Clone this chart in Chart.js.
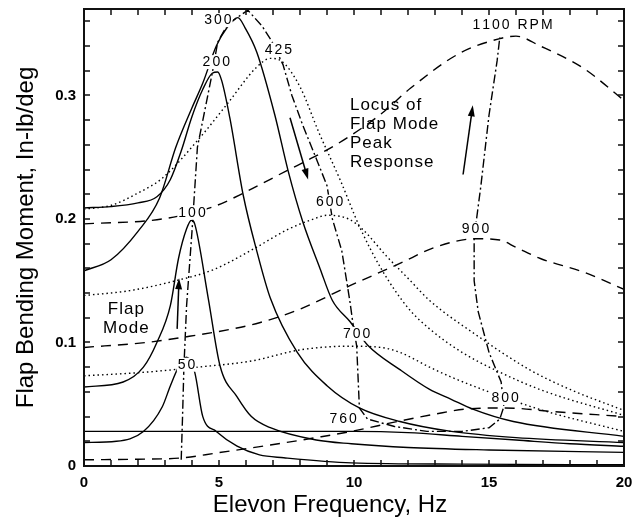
<!DOCTYPE html>
<html>
<head>
<meta charset="utf-8">
<script src="https://cdn.jsdelivr.net/npm/chart.js@4.4.1/dist/chart.umd.min.js"></script>
<style>
  html, body { margin: 0; padding: 0; background: #fff; overflow: hidden; }
  canvas { display: block; }
</style>
</head>
<body>
<canvas id="myChart" width="634" height="522"></canvas>
<script>
const family = '"Liberation Sans", Arial, sans-serif';

// axis range and tick labels
const xMin = 0, xMax = 20, yMin = 0, yMax = 0.37;
const xTickLabels = [0, 5, 10, 15, 20];
const yTickLabels = [0, 0.1, 0.2, 0.3];

// flap bending moment vs elevon frequency, [Hz, in-lb/deg]
const rpm50 = [[0,0.019],[1.2,0.02],[2.2,0.028],[2.9,0.048],[3.2,0.065],[3.5,0.08],[3.8,0.088],[4.1,0.076],[4.4,0.04],[4.9,0.028],[5.67,0.016],[6.5,0.009],[7.4,0.0067],[9.9,0.0025],[14,0.0015],[20,0.001]];
const rpm100 = [[0,0.064],[1.45,0.068],[2.2,0.08],[2.7,0.1],[3.2,0.13],[3.5,0.168],[3.8,0.192],[3.98,0.199],[4.1,0.196],[4.6,0.136],[5.04,0.081],[5.67,0.056],[6.2,0.04],[6.9,0.031],[8.6,0.021],[9.9,0.018],[12,0.015],[15,0.013],[20,0.011]];
const rpm200 = [[0,0.209],[1,0.21],[2,0.213],[2.7,0.218],[3.2,0.232],[3.6,0.255],[4.0,0.283],[4.4,0.305],[4.75,0.318],[4.95,0.319],[5.1,0.312],[5.4,0.282],[5.9,0.219],[6.4,0.174],[6.9,0.136],[7.9,0.092],[9,0.065],[10.2,0.047],[11.7,0.036],[13.6,0.028],[16,0.023],[20,0.019]];
const rpm300 = [[0,0.158],[1,0.167],[2,0.19],[2.8,0.217],[3.4,0.258],[4.0,0.29],[4.4,0.31],[4.9,0.34],[5.3,0.355],[5.7,0.363],[5.96,0.355],[6.4,0.335],[7.07,0.284],[7.56,0.239],[8.1,0.198],[8.74,0.16],[9.2,0.134],[9.85,0.117],[10.5,0.098],[11.7,0.078],[12.8,0.062],[13.6,0.054],[14.4,0.046],[15.9,0.036],[20,0.024]];
const rpm425 = [[0,0.208],[1,0.211],[2,0.221],[2.9,0.233],[4.3,0.266],[5.3,0.293],[6.4,0.323],[6.9,0.33],[7.3,0.328],[8.0,0.307],[8.7,0.27],[9.5,0.231],[10.2,0.194],[11,0.16],[12,0.128],[12.8,0.111],[14,0.092],[15.3,0.077],[17,0.061],[20,0.041]];
const rpm600 = [[0,0.138],[1.7,0.142],[3.4,0.15],[4.8,0.159],[6.3,0.176],[7.5,0.191],[8.5,0.2],[9.0,0.203],[9.8,0.2],[10.3,0.192],[11.2,0.17],[12,0.152],[12.8,0.134],[14.4,0.108],[16.5,0.078],[18,0.062],[20,0.045]];
const rpm700 = [[0,0.073],[2.3,0.076],[4.2,0.08],[6.2,0.085],[8,0.094],[9.8,0.097],[11,0.096],[11.7,0.092],[12.8,0.08],[13.6,0.072],[15,0.06],[17,0.045],[20,0.028]];
const rpm800 = [[0,0.005],[2,0.0055],[3.6,0.0065],[4.9,0.0105],[6.9,0.017],[8.6,0.023],[9.9,0.028],[11.6,0.036],[13,0.042],[14.1,0.046],[15.6,0.047],[17.4,0.044],[20,0.04]];
const rpm900 = [[0,0.096],[2.3,0.1],[3.9,0.105],[5.5,0.111],[6.5,0.116],[8,0.127],[9.85,0.146],[11.7,0.164],[13,0.177],[14.5,0.184],[15.4,0.183],[16,0.177],[16.9,0.168],[18.5,0.157],[20,0.143]];
const rpm1100 = [[0,0.196],[2.9,0.2],[4.8,0.21],[6,0.222],[7.5,0.239],[8.5,0.25],[9.7,0.265],[11,0.285],[12.1,0.306],[13.9,0.334],[15.4,0.346],[16,0.348],[16.9,0.34],[18.5,0.322],[20,0.296]];
const flatSolid = [[0,0.028],[5,0.028],[8,0.028],[10,0.028],[12,0.027],[14,0.024],[16,0.021],[18,0.018],[20,0.016]];

// locus of flap mode peak response
const locus = [[3.6,0.005],[3.65,0.04],[3.7,0.08],[3.8,0.13],[4.0,0.19],[4.2,0.258],[4.74,0.317],[4.95,0.343],[5.3,0.357],[5.67,0.363],[6.07,0.369],[6.6,0.356],[6.95,0.344],[7.37,0.325],[7.7,0.3],[8.1,0.276],[8.6,0.249],[9.0,0.227],[9.2,0.2],[9.55,0.174],[9.85,0.133],[9.95,0.117],[10.1,0.097],[10.2,0.047],[10.5,0.038],[11.5,0.032],[12.7,0.028],[14,0.028],[15,0.031],[15.4,0.038],[15.55,0.048],[15.45,0.068],[15.0,0.092],[14.6,0.125],[14.45,0.15],[14.45,0.185],[14.7,0.227],[15.0,0.284],[15.3,0.328],[15.4,0.347]];

// rpm labels on the locus
const peakLabels = ['50', '100', '200', '300', '425', '600', '700', '760', '800', '900', '1100 RPM'];
const peakLabelX = [3.8, 4.0, 4.9, 4.96, 7.2, 9.1, 10.1, 9.6, 15.6, 14.5, 15.85];
const peakLabelY = [0.082, 0.205, 0.327, 0.361, 0.337, 0.214, 0.107, 0.038, 0.055, 0.192, 0.357];

// arrows [x0, y0, x1, y1], head at the second point
const arrows = [[3.45, 0.111, 3.52, 0.152], [7.63, 0.282, 8.3, 0.232], [14.04, 0.236, 14.4, 0.292]];

const SOLID = [], DOTTED = [1.5, 3], DASHED = [10, 7], DASHDOT = [9, 3, 2, 3];

function line(points, dash, smooth) {
    return {
        data: points.map(p => ({ x: p[0], y: p[1] })),
        showLine: true,
        borderColor: '#000',
        borderWidth: 1.4,
        borderDash: dash,
        pointRadius: 0,
        fill: false,
        cubicInterpolationMode: smooth ? 'monotone' : 'default',
        tension: 0
    };
}

// text with extra space between letters, drawn one glyph at a time
function spacedWidth(ctx, text, gap) {
    return ctx.measureText(text).width + gap * (text.length - 1);
}
function drawSpaced(ctx, text, x, y, gap) {
    let cx = x;
    for (const ch of text) {
        ctx.fillText(ch, cx, y);
        cx += ctx.measureText(ch).width + gap;
    }
}

// plot frame with inward ticks on all four sides
function drawFrame(chart) {
    const ctx = chart.ctx;
    const x = chart.scales.x, y = chart.scales.y;
    const left = Math.round(x.left), right = Math.round(x.right);
    const top = Math.round(y.top), bottom = Math.round(y.bottom);
    ctx.save();
    ctx.globalAlpha = 1;
    ctx.globalCompositeOperation = 'source-over';
    ctx.setLineDash([]);
    ctx.strokeStyle = '#111';
    ctx.lineWidth = 2;
    ctx.beginPath();
    ctx.moveTo(left, top);
    ctx.lineTo(right, top);
    ctx.lineTo(right, bottom);
    ctx.lineTo(left, bottom);
    ctx.closePath();
    ctx.stroke();
    ctx.lineWidth = 1.5;
    ctx.beginPath();
    for (let v = xMin; v <= xMax; v++) {
        const px = Math.round(x.getPixelForValue(v));
        ctx.moveTo(px, bottom); ctx.lineTo(px, bottom - 6);
        ctx.moveTo(px, top); ctx.lineTo(px, top + 6);
    }
    for (let i = 0; i <= 18; i++) {
        const py = Math.round(y.getPixelForValue(yMin + i * 0.02));
        ctx.moveTo(left, py); ctx.lineTo(left + 6, py);
        ctx.moveTo(right, py); ctx.lineTo(right - 6, py);
    }
    ctx.stroke();
    ctx.restore();
}

function drawNotes(chart) {
    const ctx = chart.ctx;
    const x = chart.scales.x, y = chart.scales.y;
    ctx.save();
    ctx.setLineDash([]);
    ctx.fillStyle = '#000';
    ctx.strokeStyle = '#000';
    ctx.textBaseline = 'middle';
    ctx.textAlign = 'left';

    // rpm labels, white behind so lines break at them
    ctx.font = '14px ' + family;
    peakLabels.forEach((t, i) => {
        const px = x.getPixelForValue(peakLabelX[i]);
        const py = y.getPixelForValue(peakLabelY[i]);
        const w = spacedWidth(ctx, t, 2);
        ctx.fillStyle = '#fff';
        ctx.fillRect(px - w / 2 - 1, py - 7, w + 2, 14);
        ctx.fillStyle = '#000';
        drawSpaced(ctx, t, px - w / 2, py, 2);
    });

    // notes
    ctx.font = '17px ' + family;
    const fx = x.getPixelForValue(1.55), fy = y.getPixelForValue(0.127);
    ['Flap', 'Mode'].forEach((t, i) => drawSpaced(ctx, t, fx - spacedWidth(ctx, t, 1) / 2, fy + i * 19, 1));
    const lx = x.getPixelForValue(9.85), ly = y.getPixelForValue(0.292);
    ['Locus of', 'Flap Mode', 'Peak', 'Response'].forEach((t, i) => drawSpaced(ctx, t, lx, ly + i * 19, 1));

    // arrows
    ctx.lineWidth = 1.5;
    arrows.forEach(([x0, y0, x1, y1]) => {
        const ax = x.getPixelForValue(x0), ay = y.getPixelForValue(y0);
        const bx = x.getPixelForValue(x1), by = y.getPixelForValue(y1);
        const ang = Math.atan2(by - ay, bx - ax);
        ctx.beginPath();
        ctx.moveTo(ax, ay);
        ctx.lineTo(bx - 6 * Math.cos(ang), by - 6 * Math.sin(ang));
        ctx.stroke();
        ctx.beginPath();
        ctx.moveTo(bx, by);
        ctx.lineTo(bx - 11 * Math.cos(ang) + 3.5 * Math.sin(ang), by - 11 * Math.sin(ang) - 3.5 * Math.cos(ang));
        ctx.lineTo(bx - 11 * Math.cos(ang) - 3.5 * Math.sin(ang), by - 11 * Math.sin(ang) + 3.5 * Math.cos(ang));
        ctx.closePath();
        ctx.fill();
    });

    // x axis title
    ctx.font = '24px ' + family;
    ctx.textAlign = 'center';
    ctx.fillText('Elevon Frequency, Hz', (x.left + x.right) / 2 - 24, 505);
    ctx.restore();
}

window.onload = function() {

let chart = document.getElementById('myChart').getContext('2d');

let myChart = new Chart(chart, {
    type: 'scatter',
    data: {
        datasets: [
            line(rpm50, SOLID, true),
            line(rpm100, SOLID, true),
            line(rpm200, SOLID, true),
            line(rpm300, SOLID, true),
            line(flatSolid, SOLID, true),
            line(rpm425, DOTTED, true),
            line(rpm600, DOTTED, true),
            line(rpm700, DOTTED, true),
            line(rpm800, DASHED, true),
            line(rpm900, DASHED, true),
            line(rpm1100, DASHED, true),
            line(locus, DASHDOT, false)
        ]
    },
    options: {
        responsive: false,
        animation: false,
        layout: { padding: { top: 7.6, right: 10, bottom: 0, left: 0 } },
        plugins: { legend: { display: false }, tooltip: { enabled: false } },
        scales: {
            x: {
                type: 'linear',
                min: xMin,
                max: xMax,
                grid: { display: false },
                border: { display: true, color: '#000', width: 2 },
                ticks: {
                    stepSize: 1,
                    autoSkip: false,
                    maxRotation: 0,
                    padding: 0,
                    color: '#000',
                    font: { family: family, size: 15, weight: 'bold' },
                    callback: v => xTickLabels.includes(v) ? String(v) : ''
                },
                afterFit: s => { s.height = 56; }
            },
            y: {
                type: 'linear',
                min: yMin,
                max: yMax,
                grid: { display: false },
                border: { display: true, color: '#000', width: 2 },
                ticks: {
                    stepSize: 0.02,
                    autoSkip: false,
                    padding: 0,
                    color: '#000',
                    font: { family: family, size: 15, weight: 'bold' },
                    callback: v => {
                        const t = yTickLabels.find(l => Math.abs(l - v) < 1e-9);
                        return t === undefined ? '' : String(t);
                    }
                },
                title: {
                    display: true,
                    text: 'Flap Bending Moment, In-lb/deg',
                    color: '#000',
                    font: { family: family, size: 24 },
                    padding: { top: 12, bottom: 0 }
                },
                afterFit: s => { s.width = 84; }
            }
        }
    },
    plugins: [{ id: 'frame', afterDraw: drawFrame }, { id: 'notes', afterDraw: drawNotes }]
});
}
</script>
</body>
</html>
